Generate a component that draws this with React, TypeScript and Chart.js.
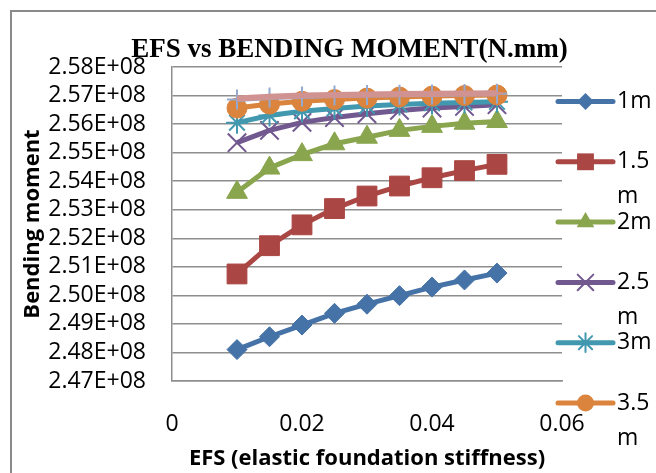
import React, { useEffect, useRef } from 'react';
import { Chart, registerables } from 'chart.js';

Chart.register(...registerables);

// EFS values (x)
const efs = [0.01, 0.015, 0.02, 0.025, 0.03, 0.035, 0.04, 0.045, 0.05];

// Bending moment series (N.mm)
const s1m = [2.481e8, 2.4855e8, 2.4896e8, 2.4937e8, 2.4969e8, 2.4999e8, 2.5029e8, 2.5054e8, 2.5078e8];
const s15m = [2.5075e8, 2.5174e8, 2.5247e8, 2.5304e8, 2.5348e8, 2.5383e8, 2.5412e8, 2.5437e8, 2.5459e8];
const s2m = [2.5361e8, 2.5446e8, 2.5493e8, 2.5531e8, 2.5554e8, 2.5578e8, 2.5592e8, 2.5603e8, 2.5609e8];
const s25m = [2.5535e8, 2.5578e8, 2.5606e8, 2.5623e8, 2.5636e8, 2.5648e8, 2.5656e8, 2.5662e8, 2.5668e8];
const s3m = [2.5605e8, 2.563e8, 2.5645e8, 2.5655e8, 2.5663e8, 2.5669e8, 2.5673e8, 2.5676e8, 2.5678e8];
const s35m = [2.5656e8, 2.567e8, 2.568e8, 2.5686e8, 2.5691e8, 2.5695e8, 2.5698e8, 2.57e8, 2.5702e8];
const s4m = [2.5686e8, 2.5693e8, 2.5697e8, 2.57e8, 2.5702e8, 2.5703e8, 2.5704e8, 2.5705e8, 2.5706e8];
const s45m = [2.569e8, 2.5696e8, 2.57e8, 2.5702e8, 2.5704e8, 2.5705e8, 2.5706e8, 2.5707e8, 2.5708e8];

const seriesLabels = ['1m', '1.5 m', '2m', '2.5 m', '3m', '3.5 m', '4m', '4.5 m'];
const seriesValues = [s1m, s15m, s2m, s25m, s3m, s35m, s4m, s45m];
const seriesColors = ['#4572A7', '#AA4643', '#89A54E', '#71588F', '#4198AF', '#DB843D', '#93A9CF', '#D19392'];
const seriesMarkers = ['rectRot', 'rect', 'triangle', 'crossRot', 'star', 'circle', 'cross', 'dash'];
const markerRadius = [10, 14, 12, 13, 11, 10, 10, 6];
const legendCount = 6;

const titleText = 'EFS vs BENDING MOMENT(N.mm)';
const xTitle = 'EFS (elastic foundation stiffness)';
const yTitle = 'Bending moment';
const yMin = 2.47e8;
const yMax = 2.58e8;
const yStep = 0.01e8;
const xMin = 0;
const xMax = 0.06;
const xStep = 0.02;

const TICK_FONT = "'Open Sans'";

function drawMarker(ctx: CanvasRenderingContext2D, style: string, x: number, y: number, r: number, color: string) {
  ctx.save();
  ctx.fillStyle = color;
  ctx.strokeStyle = color;
  ctx.lineWidth = 2;
  ctx.beginPath();
  if (style === 'rectRot') {
    ctx.moveTo(x - r, y);
    ctx.lineTo(x, y - r);
    ctx.lineTo(x + r, y);
    ctx.lineTo(x, y + r);
    ctx.closePath();
    ctx.fill();
  } else if (style === 'rect') {
    const h = r * Math.SQRT1_2;
    ctx.rect(x - h, y - h, 2 * h, 2 * h);
    ctx.fill();
  } else if (style === 'triangle') {
    ctx.moveTo(x, y - r);
    ctx.lineTo(x + r * 0.866, y + r * 0.5);
    ctx.lineTo(x - r * 0.866, y + r * 0.5);
    ctx.closePath();
    ctx.fill();
  } else if (style === 'crossRot') {
    const h = r * Math.SQRT1_2;
    ctx.moveTo(x - h, y - h);
    ctx.lineTo(x + h, y + h);
    ctx.moveTo(x - h, y + h);
    ctx.lineTo(x + h, y - h);
    ctx.stroke();
  } else if (style === 'star') {
    const h = r * Math.SQRT1_2;
    ctx.moveTo(x, y - r);
    ctx.lineTo(x, y + r);
    ctx.moveTo(x - h, y - h);
    ctx.lineTo(x + h, y + h);
    ctx.moveTo(x - h, y + h);
    ctx.lineTo(x + h, y - h);
    ctx.stroke();
  } else if (style === 'circle') {
    ctx.arc(x, y, r, 0, Math.PI * 2);
    ctx.fill();
  }
  ctx.restore();
}

const framePlugin = {
  id: 'frame',
  beforeDraw(chart: any) {
    const ctx = chart.ctx;
    ctx.save();
    ctx.fillStyle = '#ffffff';
    ctx.fillRect(0, 0, chart.width, chart.height);
    ctx.strokeStyle = '#8a8a8a';
    ctx.lineWidth = 2;
    ctx.strokeRect(11, 11, chart.width + 40, chart.height + 40);
    ctx.restore();
  },
  afterDraw(chart: any) {
    const ctx = chart.ctx;
    const area = chart.chartArea;
    ctx.save();
    // title
    ctx.fillStyle = '#000000';
    ctx.font = "bold 27px 'Liberation Serif'";
    ctx.textAlign = 'center';
    ctx.textBaseline = 'alphabetic';
    ctx.fillText(titleText, area.left + (area.right - area.left) * 0.455, 57);

    // legend
    const legendTop = 101.5;
    const legendStep = 60.3;
    const lineX0 = area.right - 4;
    const lineX1 = area.right + 51;
    const markX = (lineX0 + lineX1) / 2;
    ctx.font = "23px " + TICK_FONT;
    ctx.textAlign = 'left';
    ctx.textBaseline = 'middle';
    for (let i = 0; i < legendCount; i++) {
      const y = legendTop + i * legendStep;
      const color = seriesColors[i];
      ctx.strokeStyle = color;
      ctx.lineWidth = 5;
      ctx.lineCap = 'round';
      ctx.beginPath();
      ctx.moveTo(lineX0, y);
      ctx.lineTo(lineX1, y);
      ctx.stroke();
      drawMarker(ctx, seriesMarkers[i], markX, y, markerRadius[i] * 0.85, color);
      const parts = seriesLabels[i].split(' ');
      ctx.fillStyle = '#000000';
      parts.forEach((p, k) => {
        ctx.fillText(p, lineX1 + 4, y + k * 35);
      });
    }
    ctx.restore();
  },
};

export default function App() {
  const ref = useRef<HTMLCanvasElement | null>(null);

  useEffect(() => {
    document.body.style.margin = '0';
    const canvas = ref.current;
    if (!canvas) return;

    const datasets = seriesValues.map((vals, i) => ({
      label: seriesLabels[i],
      data: efs.map((x, k) => ({ x, y: vals[k] })),
      borderColor: seriesColors[i],
      backgroundColor: seriesColors[i],
      borderWidth: i === 7 ? 6 : 5,
      pointStyle: seriesMarkers[i],
      pointRadius: markerRadius[i],
      pointBorderWidth: ['crossRot', 'star', 'cross', 'dash'].includes(seriesMarkers[i]) ? 2 : 1,
      pointBackgroundColor: seriesColors[i],
      pointBorderColor: seriesColors[i],
      tension: 0,
      order: 20 - i,
    }));

    const chart = new Chart(canvas, {
      type: 'line',
      data: { datasets },
      plugins: [framePlugin],
      options: {
        responsive: false,
        animation: false,
        devicePixelRatio: 1,
        layout: { padding: { left: 0, right: 94, top: 67, bottom: 0 } },
        plugins: {
          legend: { display: false },
          title: { display: false },
          tooltip: { enabled: false },
        },
        scales: {
          x: {
            type: 'linear',
            min: xMin,
            max: xMax,
            grid: { display: false },
            border: { display: true, color: '#8e8e8e', width: 1.5 },
            ticks: {
              stepSize: xStep,
              padding: 22,
              autoSkip: false,
              color: '#000000',
              font: { family: TICK_FONT, size: 23 },
              maxRotation: 0,
              callback: (v: any) => String(Number(Number(v).toFixed(2))),
            },
            title: {
              display: true,
              text: xTitle,
              color: '#000000',
              font: { family: TICK_FONT, size: 22, weight: 'bold' },
              padding: { top: 0, bottom: 1 },
            },
            afterFit: (scale: any) => {
              scale.height = 92;
            },
          },
          y: {
            type: 'linear',
            min: yMin,
            max: yMax,
            grid: { color: '#8e8e8e', lineWidth: 1.5, drawTicks: false },
            border: { display: true, color: '#8e8e8e', width: 1.5 },
            ticks: {
              stepSize: yStep,
              padding: 26,
              autoSkip: false,
              color: '#000000',
              font: { family: TICK_FONT, size: 23 },
              callback: (v: any) => (Number(v) / 1e8).toFixed(2) + 'E+08',
            },
            title: {
              display: true,
              text: yTitle,
              color: '#000000',
              font: { family: TICK_FONT, size: 22, weight: 'bold' },
              padding: { top: 20, bottom: 0 },
            },
            afterFit: (scale: any) => {
              scale.width = 172;
            },
          },
        },
      } as any,
    });

    return () => {
      chart.destroy();
    };
  }, []);

  return (
    <div style={{ position: 'absolute', left: 0, top: 0, width: 656, height: 473, background: '#fff' }}>
      <canvas ref={ref} width={656} height={473} style={{ display: 'block' }} />
    </div>
  );
}
